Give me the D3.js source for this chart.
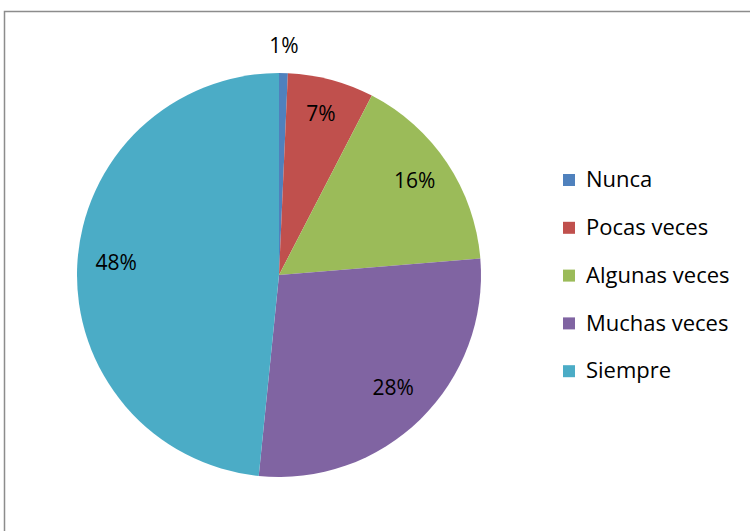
<!DOCTYPE html>
<html>
<head>
<meta charset="utf-8">
<script src="https://cdn.jsdelivr.net/npm/d3@7"></script>
<style>
  body { margin: 0; background: #fff; }
  text { font-family: "Open Sans", "Noto Sans", sans-serif; fill: #000; }
</style>
</head>
<body>
<svg id="chart" width="750" height="531"></svg>
<script>
var categories = ['Nunca', 'Pocas veces', 'Algunas veces', 'Muchas veces', 'Siempre'];
var values = [0.7, 6.9, 16.1, 27.9, 48.4];
var colors = ['#4F81BD', '#C0504D', '#9BBB59', '#8064A2', '#4BACC6'];

var WIDTH = 750, HEIGHT = 531;
var CX = 279, CY = 275, R = 202;
var LABEL_R = 163;

var svg = d3.select('#chart');

// chart area border
svg.append('rect')
    .attr('x', 4.5).attr('y', 11.5)
    .attr('width', WIDTH + 10).attr('height', HEIGHT + 10)
    .attr('fill', 'none')
    .attr('stroke', '#8c8c8c')
    .attr('stroke-width', 1.5);

var total = d3.sum(values);
var fmt = d3.format('.0%');

var pie = d3.pie().sort(null).value(function (d) { return d; });
var arcs = pie(values);

var arc = d3.arc().innerRadius(0).outerRadius(R);

var g = svg.append('g').attr('transform', 'translate(' + CX + ',' + CY + ')');

g.selectAll('path.slice')
  .data(arcs)
  .enter().append('path')
    .attr('class', 'slice')
    .attr('d', arc)
    .attr('fill', function (d, i) { return colors[i]; });

// labels: small slices go outside, others inside at ~0.8 r
g.selectAll('text.pct')
  .data(arcs)
  .enter().append('text')
    .attr('class', 'pct')
    .attr('text-anchor', 'middle')
    .attr('dy', '0.3em')
    .style('font-size', '21px')
    .attr('transform', function (d) {
      var share = d.value / total;
      var r = share < 0.03 ? R + 23 : LABEL_R;
      var a = (d.startAngle + d.endAngle) / 2;
      return 'translate(' + (Math.sin(a) * r) + ',' + (-Math.cos(a) * r - 3) + ')';
    })
    .text(function (d) { return fmt(d.value / total); });

// legend
var legend = svg.append('g').attr('transform', 'translate(563,180)');
var item = legend.selectAll('g')
  .data(categories)
  .enter().append('g')
    .attr('transform', function (d, i) { return 'translate(0,' + (i * 47.8) + ')'; });

item.append('rect')
    .attr('x', 0).attr('y', -6)
    .attr('width', 12).attr('height', 12)
    .attr('fill', function (d, i) { return colors[i]; });

item.append('text')
    .attr('x', 23).attr('dy', '0.33em')
    .style('font-size', '22px')
    .text(function (d) { return d; });
</script>
</body>
</html>
